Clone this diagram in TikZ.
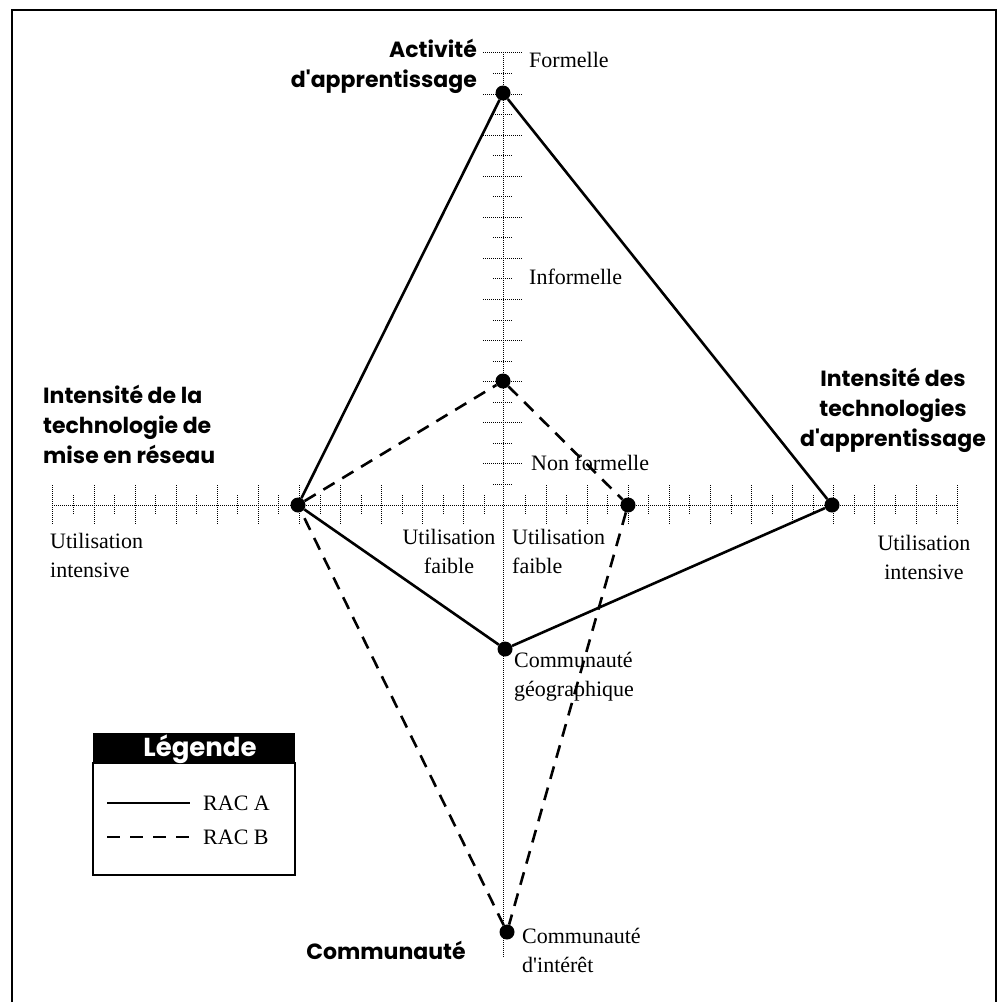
\documentclass[tikz,border=0pt]{standalone}
\usepackage{fontspec}
\setmainfont{Liberation Serif}
\newfontfamily\headfont{Poppins}
\usetikzlibrary{positioning}
\newcommand{\ap}{\textquotesingle}
\tikzset{
  dotpt/.style  ={circle, fill=black, inner sep=0pt, minimum size=15pt},
  axisln/.style ={densely dotted, line width=1pt},
  racA/.style   ={line width=2.6pt, line join=round},
  racB/.style   ={line width=2.6pt, dash pattern=on 13pt off 9pt},
  ttl/.style    ={font=\headfont\bfseries\fontsize{22}{30}\selectfont,
                  inner sep=0pt},
  lbl/.style    ={font=\fontsize{22}{29}\selectfont, inner sep=0pt},
}

\begin{document}
\begin{tikzpicture}[x=1pt, y=-1pt]
  \useasboundingbox (0,0) rectangle (1007,1002);
  % frame
  \draw[line width=2.4pt] (12,1002) -- (12,10) -- (996,10) -- (996,1002);

  % axes
  \coordinate (axL) at (54,505);
  \coordinate (axR) at (958,505);
  \coordinate (axT) at (503,52);
  \coordinate (axB) at (503,958);
  \draw[axisln] (axL) -- (axR);
  \draw[axisln] (axT) -- (axB);
  \foreach \i in {1,...,22} {
    \pgfmathsetmacro\tl{mod(\i,2)==0 ? 20 : 10}
    \draw[axisln] (505-\i*20.55,505-\tl) -- (505-\i*20.55,505+\tl);
    \draw[axisln] (505+\i*20.55,505-\tl) -- (505+\i*20.55,505+\tl);
    \draw[axisln] (503-\tl,505-\i*20.55) -- (503+\tl,505-\i*20.55);
  }

  % points
  \node[dotpt] (actF)  at (503,93)  {};
  \node[dotpt] (actN)  at (503,381) {};
  \node[dotpt] (resI)  at (298,505) {};
  \node[dotpt] (appI)  at (832,505) {};
  \node[dotpt] (appF)  at (628,505) {};
  \node[dotpt] (comG)  at (505,649) {};
  \node[dotpt] (comI)  at (507,932) {};

  \draw[racA] (actF) -- (appI) -- (comG) -- (resI) -- (actF);
  \draw[racB] (resI) -- (actN) -- (appF) -- (comI) -- (resI);

  % axis titles
  \node[ttl, align=right, anchor=east] (tAct) at (477,66)
    {Activité\\d\ap apprentissage};
  \node[ttl, align=left, anchor=west] (tRes) at (43,424)
    {Intensité de la\\technologie de\\mise en réseau};
  \node[ttl, align=center] (tApp) at (893,410)
    {Intensité des\\technologies\\d\ap apprentissage};
  \node[ttl] (tCom) at (386,950) {Communauté};

  % scale labels
  \node[lbl, anchor=west] (lForm) at (529,60) {Formelle};
  \node[lbl, anchor=west] (lInf) at (529,277) {Informelle};
  \node[lbl, anchor=west] (lNon) at (531,463) {Non formelle};
  \node[lbl, align=left, anchor=west] (lResI) at (50,555)
    {Utilisation\\intensive};
  \node[lbl, align=center] (lResF) at (449,551) {Utilisation\\faible};
  \node[lbl, align=left, anchor=west] (lAppF) at (512,551)
    {Utilisation\\faible};
  \node[lbl, align=center] (lAppI) at (924,557) {Utilisation\\intensive};
  \node[lbl, align=left, anchor=west] (lComG) at (514,677)
    {Communauté\\géographique};
  \node[lbl, align=left, anchor=west] (lComI) at (522,950)
    {Communauté\\d\ap intérêt};

  % legend
  \fill (93,733) rectangle (295,763);
  \draw[line width=1.6pt] (93,763) rectangle (295,875);
  \node[ttl, text=white, font=\headfont\bfseries\fontsize{26}{30}\selectfont]
    (lgHd) at (200,749) {Légende};
  \coordinate (lgA1) at (107,803);
  \coordinate (lgA2) at (190,803);
  \coordinate (lgB1) at (107,837);
  \coordinate (lgB2) at (190,837);
  \draw[racA, line width=2pt] (lgA1) -- (lgA2);
  \draw[racB, line width=2pt, dash pattern=on 13pt off 10pt] (lgB1) -- (lgB2);
  \node[lbl, anchor=west] (lgA) at (203,803) {RAC A};
  \node[lbl, anchor=west] (lgB) at (203,837) {RAC B};
\end{tikzpicture}
\end{document}
